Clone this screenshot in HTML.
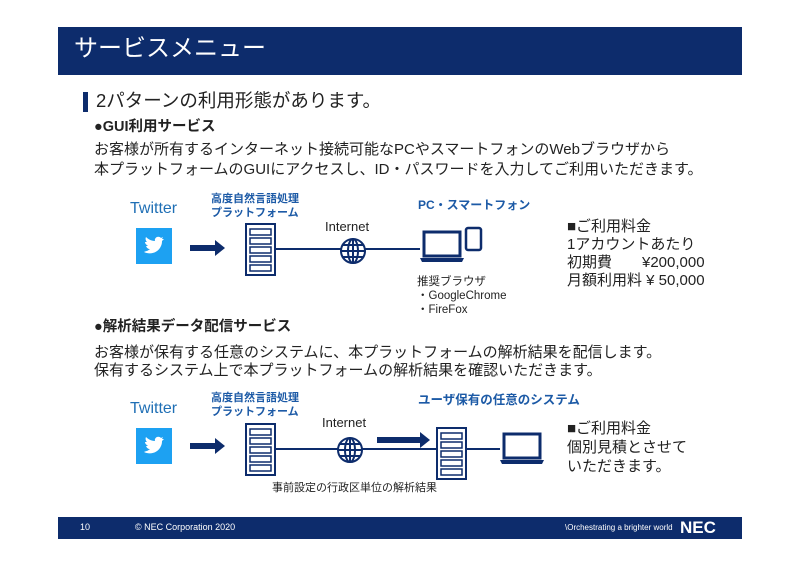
<!DOCTYPE html>
<html><head><meta charset="utf-8"><style>
body{margin:0;width:800px;height:566px;background:#fff;position:relative;overflow:hidden;font-family:"Liberation Sans","Noto Sans CJK JP",sans-serif;color:#222}
.a{position:absolute;white-space:nowrap;line-height:1}
.b{font-weight:bold;color:#1c5aa6;font-size:11px}
.t{font-size:16px;color:#1f6fb5}
.m{font-size:15px}
</style></head><body>
<div style="position:absolute;left:58px;top:27px;width:684px;height:48px;background:#0d2c6c"></div>
<div class="a" style="left:74px;top:37px;font-size:24px;color:#fff">サービスメニュー</div>
<div style="position:absolute;left:83px;top:92px;width:5px;height:20px;background:#0d2c6c"></div>
<div class="a" style="left:96px;top:92px;font-size:18.5px">2パターンの利用形態があります。</div>
<div class="a" style="left:94px;top:120px;font-size:14.5px;font-weight:bold">●GUI利用サービス</div>
<div class="a m" style="left:94px;top:142px">お客様が所有するインターネット接続可能なPCやスマートフォンのWebブラウザから</div>
<div class="a m" style="left:94px;top:162px">本プラットフォームのGUIにアクセスし、ID・パスワードを入力してご利用いただきます。</div>

<div class="a t" style="left:130px;top:201px">Twitter</div>
<div class="a b" style="left:211px;top:192px;line-height:14px">高度自然言語処理<br>プラットフォーム</div>
<div class="a" style="left:325px;top:220px;font-size:13px">Internet</div>
<div class="a b" style="left:418px;top:199px;font-size:12px">PC・スマートフォン</div>
<div class="a" style="left:417px;top:275px;font-size:11.5px;line-height:14px">推奨ブラウザ<br>・GoogleChrome<br>・FireFox</div>
<div class="a m" style="left:567px;top:218px;line-height:18px">■ご利用料金<br>1アカウントあたり<br>初期費　　¥200,000<br>月額利用料 ¥ 50,000</div>

<div class="a" style="left:94px;top:320px;font-size:14.5px;font-weight:bold">●解析結果データ配信サービス</div>
<div class="a m" style="left:94px;top:345px">お客様が保有する任意のシステムに、本プラットフォームの解析結果を配信します。</div>
<div class="a m" style="left:94px;top:363px">保有するシステム上で本プラットフォームの解析結果を確認いただきます。</div>

<div class="a t" style="left:130px;top:401px">Twitter</div>
<div class="a b" style="left:211px;top:391px;line-height:14px">高度自然言語処理<br>プラットフォーム</div>
<div class="a" style="left:322px;top:416px;font-size:13px">Internet</div>
<div class="a b" style="left:418px;top:394px;font-size:12.5px">ユーザ保有の任意のシステム</div>
<div class="a" style="left:272px;top:483px;font-size:11px">事前設定の行政区単位の解析結果</div>
<div class="a m" style="left:567px;top:419px;line-height:19px">■ご利用料金<br>個別見積とさせて<br>いただきます。</div>

<svg width="800" height="566" style="position:absolute;left:0;top:0">
<defs>
<g id="srv"><rect x="0" y="0" width="29" height="51" fill="#fff" stroke="#0d2c6c" stroke-width="2"/>
<g fill="none" stroke="#0d2c6c" stroke-width="1.5"><rect x="4" y="5" width="21" height="6"/><rect x="4" y="14" width="21" height="6"/><rect x="4" y="23" width="21" height="6"/><rect x="4" y="32" width="21" height="6"/><rect x="4" y="41" width="21" height="6"/></g></g>
<g id="tw"><rect width="36" height="36" fill="#1da1f2"/><path d="M8 24c6 3 14 1 17-6 1-2 1-4 1-5l2-2-2 0 1-2-2 1c-3-3-7 0-6 3-4 0-7-2-9-4-1 2 0 4 1 5l-2 0c0 2 2 3 3 4l-2 0c1 2 2 3 4 3-2 2-4 2-6 3z" fill="#fff"/></g>
<g id="gl" fill="none" stroke="#0d2c6c" stroke-width="2"><circle r="12" fill="#fff"/><ellipse rx="5" ry="12"/><line x1="-12" x2="12"/><line x1="-10" y1="-6" x2="10" y2="-6"/><line x1="-10" y1="6" x2="10" y2="6"/><line y1="-12" y2="12"/></g>
<g id="lp"><rect x="4" y="0" width="36" height="24" fill="#fff" stroke="#0d2c6c" stroke-width="3"/><path d="M0 26h44l-2 4H2z" fill="#0d2c6c"/></g>
</defs>
<use href="#tw" x="136" y="228"/>
<path d="M190 245h25v-5l10 8-10 8v-5h-25z" fill="#0d2c6c"/>
<use href="#srv" x="246" y="224"/>
<line x1="275" y1="249" x2="420" y2="249" stroke="#0d2c6c" stroke-width="2"/>
<use href="#gl" x="353" y="251"/>
<use href="#lp" x="420" y="232"/>
<rect x="466" y="228" width="15" height="22" rx="2" fill="#fff" stroke="#0d2c6c" stroke-width="2.5"/>

<use href="#tw" x="136" y="428"/>
<path d="M190 443h25v-5l10 8-10 8v-5h-25z" fill="#0d2c6c"/>
<use href="#srv" x="246" y="424"/>
<line x1="275" y1="449" x2="500" y2="449" stroke="#0d2c6c" stroke-width="2"/>
<use href="#gl" x="350" y="450"/>
<path d="M377 437h43v-5l10 8-10 8v-5h-43z" fill="#0d2c6c"/>
<use href="#srv" x="437" y="428"/>
<use href="#lp" x="500" y="434"/>
</svg>

<div style="position:absolute;left:58px;top:517px;width:684px;height:22px;background:#0d2c6c"></div>
<div class="a" style="left:80px;top:523px;font-size:9px;color:#fff">10</div>
<div class="a" style="left:135px;top:523px;font-size:9px;color:#fff">© NEC Corporation 2020</div>
<div class="a" style="left:565px;top:524px;font-size:8px;color:#fff">\Orchestrating a brighter world</div>
<div class="a" style="left:680px;top:519px;font-size:17px;font-weight:bold;color:#fff">NEC</div>
</body></html>
